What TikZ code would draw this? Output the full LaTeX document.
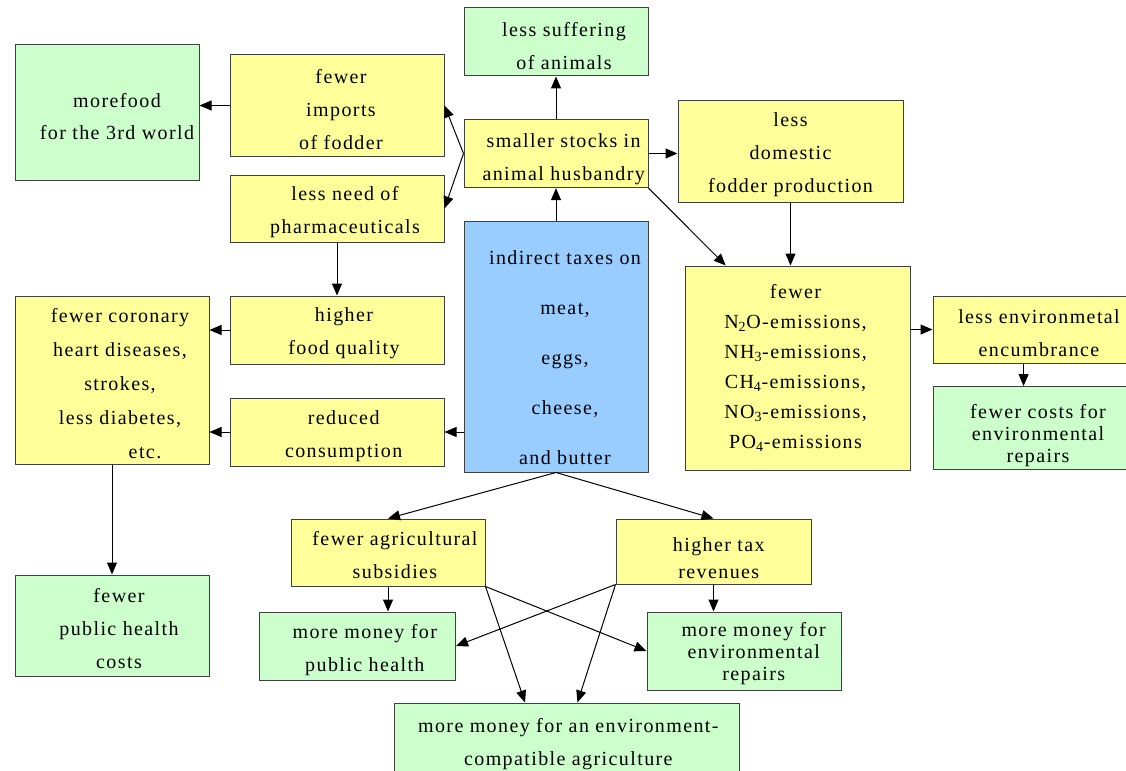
\documentclass[tikz,border=0pt]{standalone}
\usepackage{fontspec}
\setmainfont[LetterSpace=7]{Liberation Serif}
\usetikzlibrary{arrows.meta, calc, positioning}

\definecolor{boxyellow}{HTML}{FFFF99}
\definecolor{boxgreen}{HTML}{CCFFCC}
\definecolor{boxblue}{HTML}{99CCFF}
\definecolor{boxline}{HTML}{404040}

\tikzset{
  box/.style={draw=boxline, align=center, inner sep=2pt,
    font=\fontsize{15}{24.75}\selectfont},
  ybox/.style={box, fill=boxyellow},
  gbox/.style={box, fill=boxgreen},
  bbox/.style={box, fill=boxblue},
  boxsize/.style 2 args={minimum width=#1*0.75pt, minimum height=#2*0.75pt},
  lead/.style={font=\fontsize{15}{#1}\selectfont},
  % text offset inside a box: shift right, room above the text
  inset/.style 2 args={execute at begin node={\hspace*{#1}\vrule width 0pt height #2\relax}},
}

\begin{document}
\begin{tikzpicture}[x=0.75pt, y=-0.75pt, line width=0.75pt,
    >={Triangle[length=9pt, width=7.5pt]}]
    \useasboundingbox (0,0) rectangle (1126,770);

    % top row
    \node[gbox, boxsize={184}{135}, lead=24, inset={15pt}{40.25pt}] (world) at (107,112.5)
      {morefood\\for the 3rd world};
    \node[ybox, boxsize={214}{101}, inset={6pt}{65.75pt}] (imports) at (337,105.5)
      {fewer\\imports\\of fodder};
    \node[gbox, boxsize={184}{68}, inset={12pt}{41pt}] (suffering) at (556,42)
      {less suffering\\of animals};
    \node[ybox, boxsize={184}{67}, inset={11.5pt}{44pt}] (stocks) at (556,153.5)
      {smaller stocks in\\animal husbandry};
    \node[ybox, boxsize={225}{101}, inset={0pt}{64.25pt}] (domestic) at (790.5,151.5)
      {less\\domestic\\fodder production};
    \node[ybox, boxsize={214}{67}, inset={12pt}{41pt}] (pharma) at (337,208.5)
      {less need of\\pharmaceuticals};

    % middle row
    \node[bbox, boxsize={184}{251}, lead=37.5, inset={13.5pt}{176.75pt}] (taxes) at (556,346.5)
      {indirect taxes on\\meat,\\eggs,\\cheese,\\and butter};
    \node[ybox, boxsize={225}{204}, lead=22.5, inset={-3pt}{0pt}] (emissions) at (797.5,368)
      {fewer\\N\textsubscript{2}O-emissions,\\NH\textsubscript{3}-emissions,\\
       CH\textsubscript{4}-emissions,\\NO\textsubscript{3}-emissions,\\
       PO\textsubscript{4}-emissions};
    \node[ybox, boxsize={214}{68}, inset={10.5pt}{39.5pt}] (quality) at (337,330)
      {higher\\food quality};
    \node[ybox, boxsize={194}{168}, lead=25.5, inset={12pt}{118.25pt}] (coronary) at (112,380)
      {fewer coronary\\heart diseases,\\strokes,\\less diabetes,\\
       \hspace*{2.5em}etc.};
    \node[ybox, boxsize={214}{68}, inset={10pt}{41pt}] (reduced) at (337,432)
      {reduced\\consumption};
    \node[ybox, boxsize={206}{67}, inset={4.5pt}{41pt}] (encumbrance) at (1036,329.5)
      {less environmetal\\encumbrance};
    \node[gbox, boxsize={206}{78}, lead=16.5, inset={3pt}{55pt}] (costs) at (1036,428)
      {fewer costs for\\environmental\\repairs};

    % bottom rows
    \node[gbox, boxsize={194}{101}, inset={10.5pt}{64.25pt}] (healthcosts) at (112,625.5)
      {fewer\\public health\\costs};
    \node[ybox, boxsize={194}{67}, inset={10.5pt}{39.5pt}] (subsidies) at (388,552.5)
      {fewer agricultural\\subsidies};
    \node[ybox, boxsize={195}{65}, lead=20.25, inset={8pt}{41pt}] (revenues) at (713.5,551.5)
      {higher tax\\revenues};
    \node[gbox, boxsize={196}{68}, inset={11pt}{41pt}] (publichealth) at (357.5,646)
      {more money for\\public health};
    \node[gbox, boxsize={194}{78}, lead=16.5, inset={14.5pt}{47.75pt}] (envrepairs) at (744,651)
      {more money for\\environmental\\repairs};
    \node[gbox, boxsize={345}{72}, inset={2pt}{42.5pt}] (agriculture) at (567,739)
      {more money for an environment-\\compatible agriculture};

    % connectors
    \draw[->] (imports.west) -- (imports.west -| world.east);
    \draw[->] (stocks.west) -- (imports.east);
    \draw[->] (stocks.west) -- (pharma.east);
    \draw[->] (stocks.north) -- (suffering.south);
    \draw[->] (taxes.north) -- (stocks.south);
    \draw[->] (stocks.east) -- (stocks.east -| domestic.west);
    \draw[->] (stocks.south east) -- (emissions.125);
    \draw[->] (domestic.south) -- (domestic.south |- emissions.north);
    \draw[->] (pharma.south) -- (quality.north);
    \draw[->] (quality.west) -- (quality.west -| coronary.east);
    \draw[->] (reduced.west) -- (reduced.west -| coronary.east);
    \draw[->] (reduced.east -| taxes.west) -- (reduced.east);
    \draw[->] (coronary.south) -- (healthcosts.north);
    \draw[->] (encumbrance.west -| emissions.east) -- (encumbrance.west);
    \draw[->] ($(encumbrance.south west)!0.44!(encumbrance.south east)$)
      -- ($(costs.north west)!0.44!(costs.north east)$);
    \draw[->] (taxes.south) -- (subsidies.north);
    \draw[->] (taxes.south) -- (revenues.north);
    \draw[->] (subsidies.south) -- (subsidies.south |- publichealth.north);
    \draw[->] (revenues.south) -- (revenues.south |- envrepairs.north);
    \draw[->] (subsidies.south east) -- (envrepairs.west);
    \draw[->] (subsidies.south east) -- (agriculture.139);
    \draw[->] (revenues.south west) -- (publichealth.east);
    \draw[->] (revenues.south west) -- (agriculture.74);
\end{tikzpicture}
\end{document}
